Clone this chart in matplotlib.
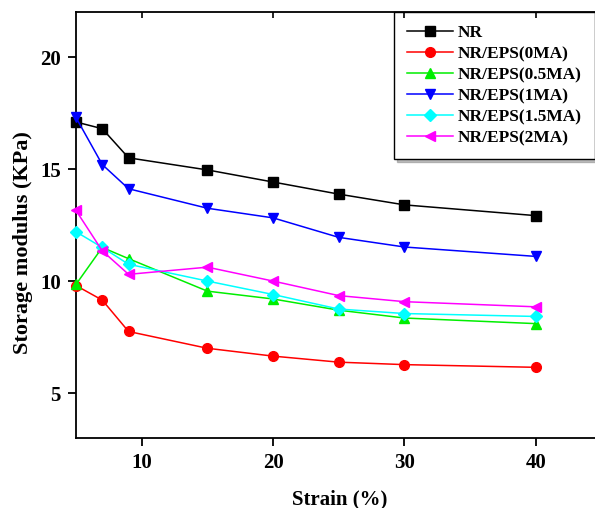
import matplotlib
matplotlib.use("Agg")
import matplotlib.pyplot as plt

plt.rcParams["font.family"] = ["Liberation Serif", "DejaVu Serif"]
plt.rcParams["font.weight"] = "bold"

strain = [5, 7, 9, 15, 20, 25, 30, 40]
nr = [17.1, 16.8, 15.5, 14.96, 14.42, 13.88, 13.4, 12.92]
eps_0 = [9.8, 9.15, 7.75, 7.0, 6.65, 6.38, 6.27, 6.15]
eps_05 = [9.85, 11.5, 11.0, 9.55, 9.2, 8.7, 8.35, 8.1]
eps_1 = [17.3, 15.2, 14.12, 13.25, 12.82, 11.95, 11.52, 11.1]
eps_15 = [12.2, 11.5, 10.75, 10.0, 9.4, 8.75, 8.55, 8.42]
eps_2 = [13.15, 11.35, 10.3, 10.62, 10.0, 9.35, 9.08, 8.85]

series = [
    ("NR", nr, "black", "s", 6.5),
    ("NR/EPS(0MA)", eps_0, "red", "o", 7),
    ("NR/EPS(0.5MA)", eps_05, "#00ee00", "^", 7.5),
    ("NR/EPS(1MA)", eps_1, "blue", "v", 7.5),
    ("NR/EPS(1.5MA)", eps_15, "cyan", "D", 6),
    ("NR/EPS(2MA)", eps_2, "magenta", "<", 7.5),
]

fig = plt.figure(figsize=(5.95, 5.08), dpi=100)
ax = fig.add_axes([0.1277, 0.138, 0.8723, 0.838])
for name, vals, col, mk, ms in series:
    ax.plot(strain, vals, color=col, marker=mk, ms=ms, lw=1.1, label=name,
            clip_on=False, zorder=3)

ax.set_xlim(5, 44.5)
ax.set_ylim(3, 22)
ax.set_xticks([10, 20, 30, 40])
ax.set_yticks([5, 10, 15, 20])
ax.tick_params(axis="both", labelsize=15, width=1.3, length=6, direction="out", pad=5)
for lbl in ax.get_xticklabels() + ax.get_yticklabels():
    lbl.set_fontweight("bold")
for s in ["left", "bottom", "top"]:
    ax.spines[s].set_linewidth(1.3)
ax.spines["right"].set_visible(False)
ax.set_xlabel("Strain (%)", fontsize=15, weight="bold")
ax.set_ylabel("Storage modulus (KPa)", fontsize=16, weight="bold")
ax.xaxis.set_label_coords(0.509, -0.121)
ax.yaxis.set_label_coords(-0.083, 0.458)

# ticks on top spine point inward
topax = ax.twiny()
topax.set_xlim(ax.get_xlim())
topax.set_xticks([10, 20, 30, 40])
topax.tick_params(direction="in", length=4, width=1.2, labeltop=False)
for s in topax.spines.values():
    s.set_visible(False)

leg = ax.legend(loc="upper right", fontsize=12.5, frameon=True, fancybox=False,
                shadow={"color": "grey"}, borderaxespad=0, handlelength=2.65,
                labelspacing=0.28, borderpad=0.75, handletextpad=0.3)
leg.get_frame().set_edgecolor("black")
leg.get_frame().set_linewidth(1.0)
leg.get_frame().set_alpha(1)
for t in leg.get_texts():
    t.set_fontweight("bold")

fig.savefig("out.png", dpi=100, facecolor="white")
